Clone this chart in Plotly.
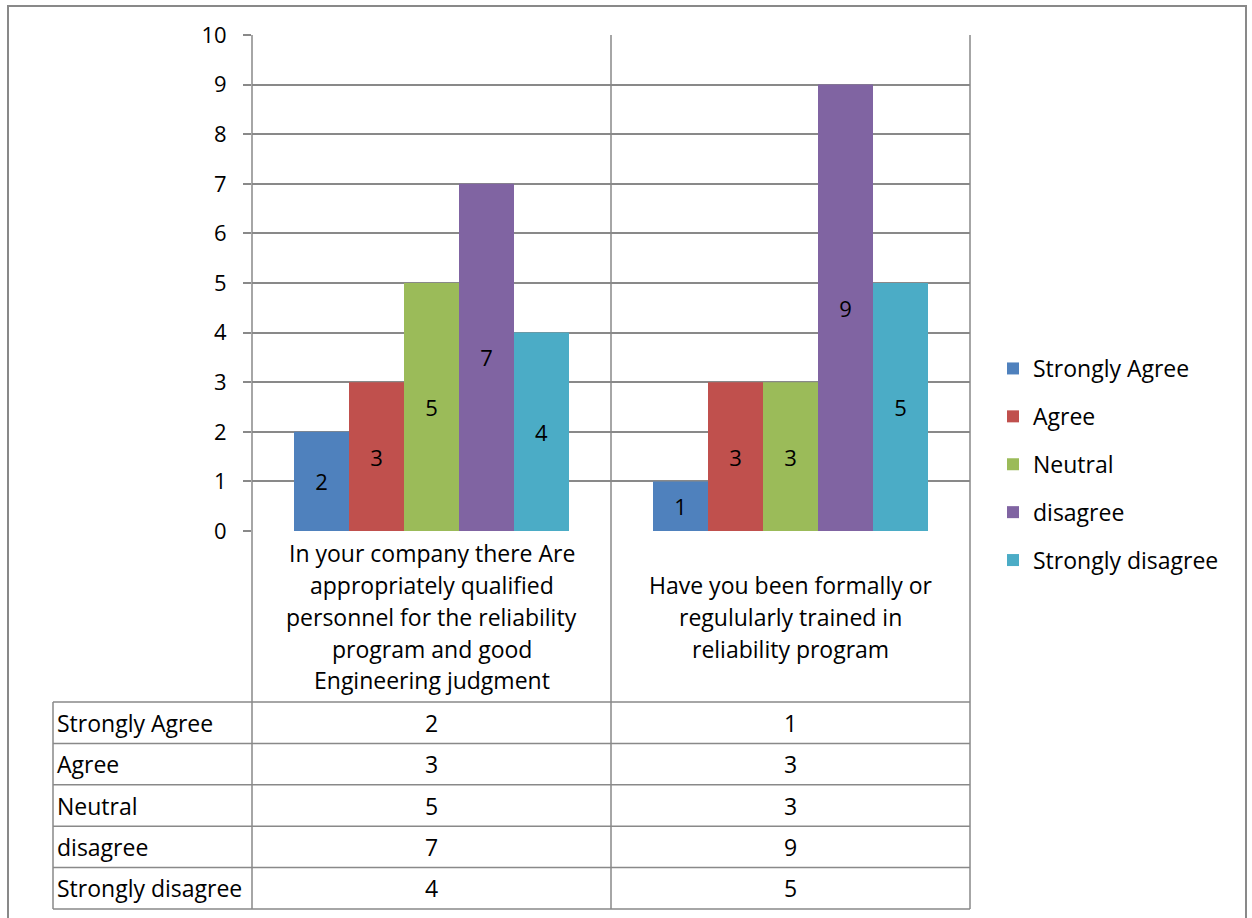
import plotly.graph_objects as go

# ---- data -------------------------------------------------------------
categories = [
    ["In your company there Are", "appropriately qualified",
     "personnel for the reliability", "program and good",
     "Engineering judgment"],
    ["Have you been formally or", "regulularly trained in",
     "reliability program"],
]
series_names = ["Strongly Agree", "Agree", "Neutral", "disagree", "Strongly disagree"]
strongly_agree = [2, 1]
agree = [3, 3]
neutral = [5, 3]
disagree = [7, 9]
strongly_disagree = [4, 5]
y_ticks = list(range(0, 11))

series_values = [strongly_agree, agree, neutral, disagree, strongly_disagree]
colors = ["#4F81BD", "#C0504D", "#9BBB59", "#8064A2", "#4BACC6"]

FONT = "Open Sans"
FS = 23       # labels, table, legend
FS_NUM = 22   # axis ticks and bar values
GRID = "#898989"

# plot-area geometry in pixels
W, H = 1252, 918
L, R, T, B = 252, 970, 35, 531


def px(x):
    return (x - L) / (R - L)


def py(y):
    return (B - y) / (B - T)


cat_keys = ["c%d" % i for i in range(len(categories))]

fig = go.Figure()
for name, vals, col in zip(series_names, series_values, colors):
    fig.add_trace(go.Bar(
        x=cat_keys, y=vals, name=name, legendgroup=name,
        marker=dict(color=col, line=dict(width=0)),
        text=vals, texttemplate="%{y}", textposition="inside",
        insidetextanchor="middle",
        textfont=dict(family=FONT, size=FS_NUM, color="black"),
    ))

shapes = []
annotations = []

# outer chart border
shapes.append(dict(type="rect", xref="paper", yref="paper",
                   x0=px(8), x1=px(1246), y0=py(940), y1=py(6),
                   line=dict(color=GRID, width=2)))

# table geometry
tbl_left = 53
tbl_top = 702
row_h = (909 - 702) / len(series_names)
cat_edges = [L + i * (R - L) / len(categories) for i in range(len(categories) + 1)]
cat_centers = [(cat_edges[i] + cat_edges[i + 1]) / 2 for i in range(len(categories))]
tbl_bottom = tbl_top + row_h * len(series_names)

# vertical lines: category boundaries run from plot top to table bottom
for xe in cat_edges:
    shapes.append(dict(type="line", xref="paper", yref="paper",
                       x0=px(xe), x1=px(xe), y0=py(T), y1=py(tbl_bottom),
                       line=dict(color=GRID, width=1.5)))
shapes.append(dict(type="line", xref="paper", yref="paper",
                   x0=px(tbl_left), x1=px(tbl_left), y0=py(tbl_top), y1=py(tbl_bottom),
                   line=dict(color=GRID, width=1.5)))
# horizontal table rules
for i in range(len(series_names) + 1):
    yy = tbl_top + i * row_h
    shapes.append(dict(type="line", xref="paper", yref="paper",
                       x0=px(tbl_left), x1=px(R), y0=py(yy), y1=py(yy),
                       line=dict(color=GRID, width=1.5)))

# category labels (one annotation per line)
line_gap = 32
label_mid = (B + tbl_top) / 2
for ci, lines in enumerate(categories):
    n = len(lines)
    for li, txt in enumerate(lines):
        yy = label_mid + (li - (n - 1) / 2) * line_gap
        annotations.append(dict(xref="paper", yref="paper", x=px(cat_centers[ci]),
                                y=py(yy), text=txt, showarrow=False,
                                xanchor="center", yanchor="middle",
                                font=dict(family=FONT, size=FS, color="black")))

# data table cells
for ri, (name, vals) in enumerate(zip(series_names, series_values)):
    yy = tbl_top + (ri + 0.5) * row_h
    annotations.append(dict(xref="paper", yref="paper", x=px(tbl_left + 2),
                            y=py(yy), text=name, showarrow=False,
                            xanchor="left", yanchor="middle",
                            font=dict(family=FONT, size=FS, color="black")))
    for ci, v in enumerate(vals):
        annotations.append(dict(xref="paper", yref="paper", x=px(cat_centers[ci]),
                                y=py(yy), text=str(v), showarrow=False,
                                xanchor="center", yanchor="middle",
                                font=dict(family=FONT, size=FS, color="black")))

fig.update_layout(
    width=W, height=H, autosize=False,
    margin=dict(l=L, r=W - R, t=T, b=H - B, pad=0),
    paper_bgcolor="white", plot_bgcolor="white",
    barmode="group", bargap=0.234, bargroupgap=0,
    font=dict(family=FONT, size=FS, color="black"),
    showlegend=True,
    legend=dict(x=px(993), y=py(464.5), xanchor="left", yanchor="middle",
                font=dict(family=FONT, size=FS, color="black"),
                tracegroupgap=15, bgcolor="rgba(0,0,0,0)"),
    shapes=shapes, annotations=annotations,
)
fig.update_xaxes(showticklabels=False, showgrid=False, zeroline=False,
                 showline=False, ticks="", range=[-0.5, len(categories) - 0.5])
fig.update_yaxes(range=[0, 10], tickvals=y_ticks, showgrid=True, gridcolor=GRID,
                 gridwidth=1.5, zeroline=False, showline=False,
                 ticks="outside", ticklen=8, tickcolor=GRID, tickwidth=1.5,
                 ticklabelstandoff=12,
                 tickfont=dict(family=FONT, size=FS_NUM, color="black"))

fig.write_html("out.html")
